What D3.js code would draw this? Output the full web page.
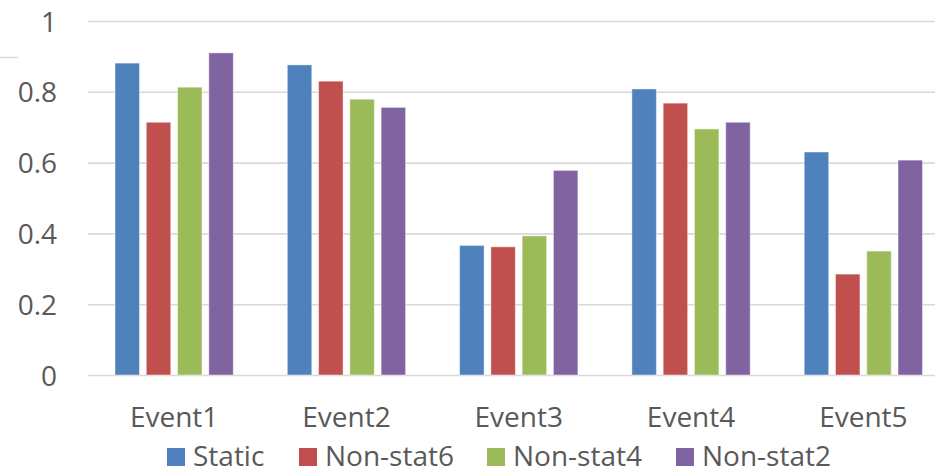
<!DOCTYPE html>
<html>
<head>
<meta charset="utf-8">
<script src="https://cdn.jsdelivr.net/npm/d3@7"></script>
<style>
  html, body { margin: 0; padding: 0; background: #fff; }
  svg { display: block; }
  text { font-family: "Open Sans", Lato, sans-serif; fill: #595959; }
</style>
</head>
<body>
<svg id="chart" width="935" height="469"></svg>
<script>
// Categories, series names and values
const events = ["Event1", "Event2", "Event3", "Event4", "Event5"];
const seriesNames = ["Static", "Non-stat6", "Non-stat4", "Non-stat2"];
const staticVals   = [0.881, 0.876, 0.366, 0.808, 0.630];
const nonStat6Vals = [0.714, 0.830, 0.362, 0.768, 0.285];
const nonStat4Vals = [0.813, 0.779, 0.393, 0.695, 0.350];
const nonStat2Vals = [0.910, 0.756, 0.578, 0.714, 0.607];
const yTicks = [0, 0.2, 0.4, 0.6, 0.8, 1];
const colors = ["#4F81BD", "#C0504D", "#9BBB59", "#8064A2"];

const seriesVals = [staticVals, nonStat6Vals, nonStat4Vals, nonStat2Vals];

const svg = d3.select("#chart");
const W = 935, H = 469;
const fontStack = "'Open Sans', Lato, sans-serif";
const fontSize = 28;

// Plot area (the category band runs slightly past the right edge)
const plotLeft = 88, plotRight = 949.5, plotTop = 21, plotBottom = 375;

const y = d3.scaleLinear().domain([0, 1]).range([plotBottom, plotTop]);
const x0 = d3.scaleBand().domain(events).range([plotLeft, plotRight]).padding(0);
const groupGap = 27;
const x1 = d3.scaleBand().domain(seriesNames)
  .range([groupGap, x0.bandwidth() - groupGap])
  .paddingInner(0.217).paddingOuter(0);

// stray short rule at the top-left
svg.append("line")
  .attr("x1", 0).attr("x2", 18).attr("y1", 57.5).attr("y2", 57.5)
  .attr("stroke", "#d9d9d9").attr("stroke-width", 1.5);

// Gridlines and y tick labels
const yAxis = d3.axisLeft(y).tickValues(yTicks).tickSize(-(W - plotLeft)).tickPadding(31)
  .tickFormat(d => d3.format("~g")(d));
const gy = svg.append("g").attr("transform", `translate(${plotLeft},0)`).call(yAxis);
gy.select(".domain").remove();
gy.selectAll(".tick line").attr("stroke", "#d9d9d9").attr("stroke-width", 1.6);
gy.selectAll(".tick text")
  .attr("font-size", fontSize).attr("fill", "#595959").attr("dy", "0.36em")
  .style("font-family", fontStack);

// Bars
const groups = svg.append("g").selectAll("g").data(events).join("g")
  .attr("transform", d => `translate(${x0(d)},0)`);
groups.selectAll("rect")
  .data((ev, i) => seriesNames.map((s, k) => ({ s, k, v: seriesVals[k][i] })))
  .join("rect")
  .attr("x", d => x1(d.s))
  .attr("width", x1.bandwidth())
  .attr("y", d => y(d.v))
  .attr("height", d => y(0) - y(d.v))
  .attr("fill", d => colors[d.k])
  .attr("stroke", "rgba(255,255,255,0.45)")
  .attr("stroke-width", 1);

// Category labels
const xAxis = d3.axisBottom(x0).tickSize(0).tickPadding(0);
const gx = svg.append("g").attr("transform", `translate(0,${plotBottom})`).call(xAxis);
gx.select(".domain").remove();
gx.selectAll(".tick text")
  .attr("y", 0).attr("dy", 0)
  .attr("transform", "translate(0,52)")
  .attr("font-size", fontSize).attr("fill", "#595959")
  .style("font-family", fontStack);

// Legend
const legendX = [167, 299, 487, 676];
const legend = svg.append("g").selectAll("g").data(seriesNames).join("g")
  .attr("transform", (d, i) => `translate(${legendX[i]},448)`);
legend.append("rect").attr("width", 18).attr("height", 18)
  .attr("fill", (d, i) => colors[i]);
legend.append("text").attr("x", 26).attr("y", 17.5)
  .attr("font-size", fontSize).text(d => d);
</script>
</body>
</html>
